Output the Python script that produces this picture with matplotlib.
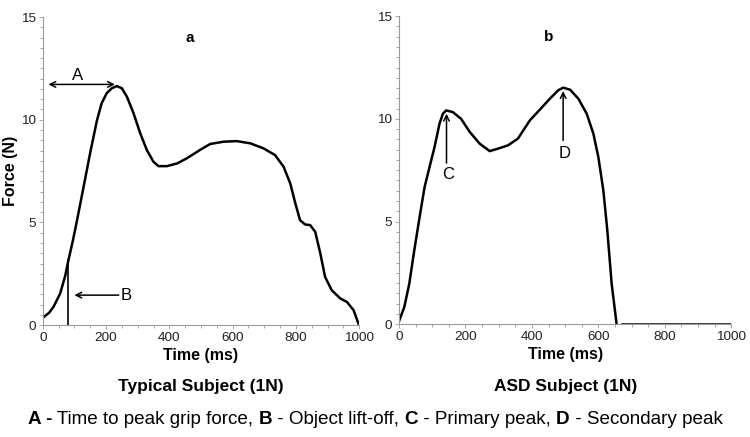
import numpy as np
import matplotlib
matplotlib.use('Agg')
import matplotlib.pyplot as plt
from matplotlib.ticker import MultipleLocator

plt.rcParams['font.family'] = ['Liberation Sans', 'DejaVu Sans']

# typical subject (panel a)
t_typ = [2, 20, 34, 55, 71, 81, 95, 107, 128, 150, 171, 186, 202, 218, 234,
         250, 266, 287, 308, 329, 350, 366, 392, 424, 455, 497, 529, 571, 613,
         656, 697, 734, 761, 782, 798, 813, 829, 845, 861, 877, 892, 913, 940,
         961, 982, 998]
f_typ = [0.38, 0.6, 0.89, 1.54, 2.4, 3.15, 4.1, 5.0, 6.65, 8.4, 9.95,
         10.8, 11.29, 11.53, 11.64, 11.53, 11.12, 10.31, 9.34, 8.52, 7.95,
         7.74, 7.74, 7.87, 8.12, 8.53, 8.82, 8.93, 8.96, 8.85, 8.61, 8.28,
         7.71, 6.9, 5.93, 5.11, 4.9, 4.87, 4.54, 3.49, 2.35, 1.7, 1.3, 1.13,
         0.73, 0.05]

# ASD subject (panel b)
t_asd = [1, 16, 31, 46, 62, 77, 92, 107, 122, 132, 142, 162, 187, 213, 243,
         273, 298, 328, 358, 394, 424, 454, 479, 494, 515, 540, 565, 585, 600,
         615, 627, 640, 655]
f_asd = [0.19, 0.84, 1.98, 3.6, 5.22, 6.68, 7.66, 8.63, 9.77, 10.25, 10.41,
         10.33, 10.0, 9.36, 8.79, 8.43, 8.55, 8.71, 9.04, 9.93, 10.45, 10.98,
         11.39, 11.52, 11.42, 10.98, 10.25, 9.28, 8.14, 6.52, 4.57, 1.98, 0.0]
t_asd_rest = [670, 1000]
f_asd_rest = [0, 0]

liftoff_t = 81
liftoff_f = 3.15
peak_t = 228
peak_f = 11.72
c_t, c_f = 143, 10.25
d_t, d_f = 494, 11.35

fig = plt.figure(figsize=(7.5, 4.37), dpi=100)
ax1 = fig.add_axes([0.057, 0.256, 0.422, 0.705])
ax2 = fig.add_axes([0.532, 0.258, 0.443, 0.705])

for ax in (ax1, ax2):
    ax.set_xlim(0, 1000)
    ax.set_ylim(0, 15)
    ax.xaxis.set_major_locator(MultipleLocator(200))
    ax.xaxis.set_minor_locator(MultipleLocator(50))
    ax.yaxis.set_major_locator(MultipleLocator(5))
    ax.yaxis.set_minor_locator(MultipleLocator(0.5))
    for s in ['top', 'right']:
        ax.spines[s].set_visible(False)
    for s in ['left', 'bottom']:
        ax.spines[s].set_color('#9a9a9a')
        ax.spines[s].set_linewidth(0.8)
    ax.tick_params(which='both', direction='out', colors='#9a9a9a',
                   labelcolor='#222222', labelsize=9.7, width=0.6)
    ax.tick_params(which='major', length=3, pad=2)
    ax.tick_params(which='minor', length=2)
    ax.set_xlabel('Time (ms)', fontsize=11.5, fontweight='bold', labelpad=3)

ax1.set_ylabel('Force (N)', fontsize=11.5, fontweight='bold', labelpad=2)

ax1.plot(t_typ, f_typ, color='black', lw=1.8, solid_joinstyle='round')
ax2.plot(t_asd, f_asd, color='black', lw=1.8, solid_joinstyle='round')
ax2.plot(t_asd_rest, f_asd_rest, color='black', lw=1.8)

ax1.text(464, 14.0, 'a', fontsize=11, fontweight='bold', ha='center', va='center')
ax2.text(449, 14.0, 'b', fontsize=11, fontweight='bold', ha='center', va='center')

arr = dict(arrowstyle='->', color='black', lw=1.1, shrinkA=0, shrinkB=0)
ax1.annotate('', xy=(18, peak_f), xytext=(peak_t, peak_f),
             arrowprops=dict(arrowstyle='<->', color='black', lw=1.1,
                             shrinkA=0, shrinkB=0))
ax1.text(110, 12.15, 'A', fontsize=12, ha='center', va='center')
ax1.plot([liftoff_t, liftoff_t], [0, liftoff_f], color='black', lw=1.2)
ax1.annotate('', xy=(100, 1.46), xytext=(240, 1.46), arrowprops=arr)
ax1.text(264, 1.46, 'B', fontsize=12, ha='center', va='center')

ax2.annotate('', xy=(c_t, c_f), xytext=(c_t, 7.85), arrowprops=arr)
ax2.text(c_t + 5, 7.3, 'C', fontsize=12, ha='center', va='center')
ax2.annotate('', xy=(d_t, d_f), xytext=(d_t, 8.95), arrowprops=arr)
ax2.text(d_t + 5, 8.3, 'D', fontsize=12, ha='center', va='center')

fig.text(201 / 750, 1 - 387 / 437, 'Typical Subject (1N)', fontsize=12.5,
         fontweight='bold', ha='center', va='center')
fig.text(566 / 750, 1 - 387 / 437, 'ASD Subject (1N)', fontsize=12.5,
         fontweight='bold', ha='center', va='center')

# caption with bold letters
parts = [('A -', 'bold'), (' Time to peak grip force, ', 'normal'),
         ('B', 'bold'), (' - Object lift-off, ', 'normal'),
         ('C', 'bold'), (' - Primary peak, ', 'normal'),
         ('D', 'bold'), (' - Secondary peak', 'normal')]
renderer = fig.canvas.get_renderer()
texts = []
total = 0
for s, w in parts:
    t = fig.text(0, 0, s, fontsize=13.6, fontweight=w, va='center')
    bb = t.get_window_extent(renderer)
    texts.append((t, bb.width))
    total += bb.width
x = (750 - total) / 2
for t, wpx in texts:
    t.set_position((x / 750, 1 - 420 / 437))
    x += wpx

fig.savefig('out.png', dpi=100)
